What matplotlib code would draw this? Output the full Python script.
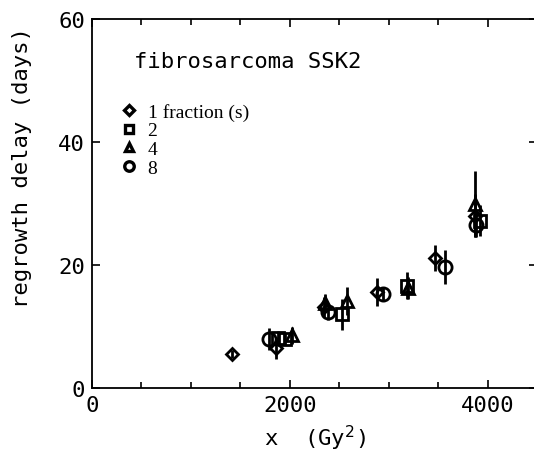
import numpy as np
import matplotlib
matplotlib.use("Agg")
import matplotlib.pyplot as plt
from matplotlib.ticker import MultipleLocator
from matplotlib.lines import Line2D

# values (x in Gy^2, delay in days)
x_1 = [1420, 1860, 2350, 2880, 3465, 3875]
y_1 = [5.5, 6.5, 13.2, 15.6, 21.1, 28.0]
e_1 = [0.6, 1.8, 1.6, 2.3, 2.1, 3.5]

x_2 = [1880, 1950, 2525, 3182, 3920]
y_2 = [8.2, 8.0, 12.0, 16.6, 27.2]
e_2 = [1.0, 1.0, 2.5, 2.2, 2.5]

x_4 = [2020, 2355, 2576, 3195, 3870]
y_4 = [8.6, 13.8, 14.1, 16.2, 29.9]
e_4 = [1.4, 1.5, 2.3, 1.8, 5.4]

x_8 = [1790, 2385, 2939, 3566, 3880]
y_8 = [8.0, 12.4, 15.3, 19.7, 26.5]
e_8 = [1.8, 1.3, 1.0, 2.8, 2.0]

legend_labels = ["1 fraction (s)", "2", "4", "8"]

mono = "DejaVu Sans Mono"

fig = plt.figure(figsize=(5.34, 4.52), dpi=100)
ax = fig.add_axes([92 / 534, 63 / 452, 445 / 534, 369 / 452])

groups = [
    (x_1, y_1, e_1, "D", 6.5),
    (x_2, y_2, e_2, "s", 8.5),
    (x_4, y_4, e_4, "^", 8.5),
    (x_8, y_8, e_8, "o", 9.5),
]
for xs, ys, es, m, ms in groups:
    ax.errorbar(xs, ys, yerr=es, fmt=m, ms=ms, mfc="none", mec="black",
                mew=2, ecolor="black", elinewidth=2, capsize=0)

ax.set_xlim(0, 4500)
ax.set_ylim(0, 60)
ax.set_xticks([0, 2000, 4000])
ax.xaxis.set_minor_locator(MultipleLocator(500))
ax.set_yticks([0, 20, 40, 60])
ax.tick_params(which="both", direction="in", top=True, right=True, width=1.2)
ax.tick_params(which="major", length=6, labelsize=16, pad=5)
ax.tick_params(which="minor", length=4)
for lab in ax.get_xticklabels() + ax.get_yticklabels():
    lab.set_family(mono)
for sp in ax.spines.values():
    sp.set_linewidth(1.3)

ax.set_xlabel("x  (Gy$^2$)", family=mono, fontsize=16)
ax.xaxis.set_label_coords(0.5, -0.093)
ax.set_ylabel("regrowth delay (days)", family=mono, fontsize=16)
ax.yaxis.set_label_coords(-0.135, 0.6)

ax.text(0.095, 0.885, "fibrosarcoma SSK2", transform=ax.transAxes,
        family=mono, fontsize=16, va="center")

# legend in the typeset serif face of the original
handles = [Line2D([], [], marker=m, ls="none", mfc="none", mec="black",
                  mew=2.4, ms=ms * 0.72) for _, _, _, m, ms in groups]
leg = ax.legend(handles, legend_labels, loc="upper left",
                bbox_to_anchor=(0.02, 0.82), frameon=False,
                prop={"family": "Liberation Serif", "size": 14},
                handletextpad=0.4, labelspacing=0.05, handlelength=1.1)

fig.savefig("out.png", dpi=100)
